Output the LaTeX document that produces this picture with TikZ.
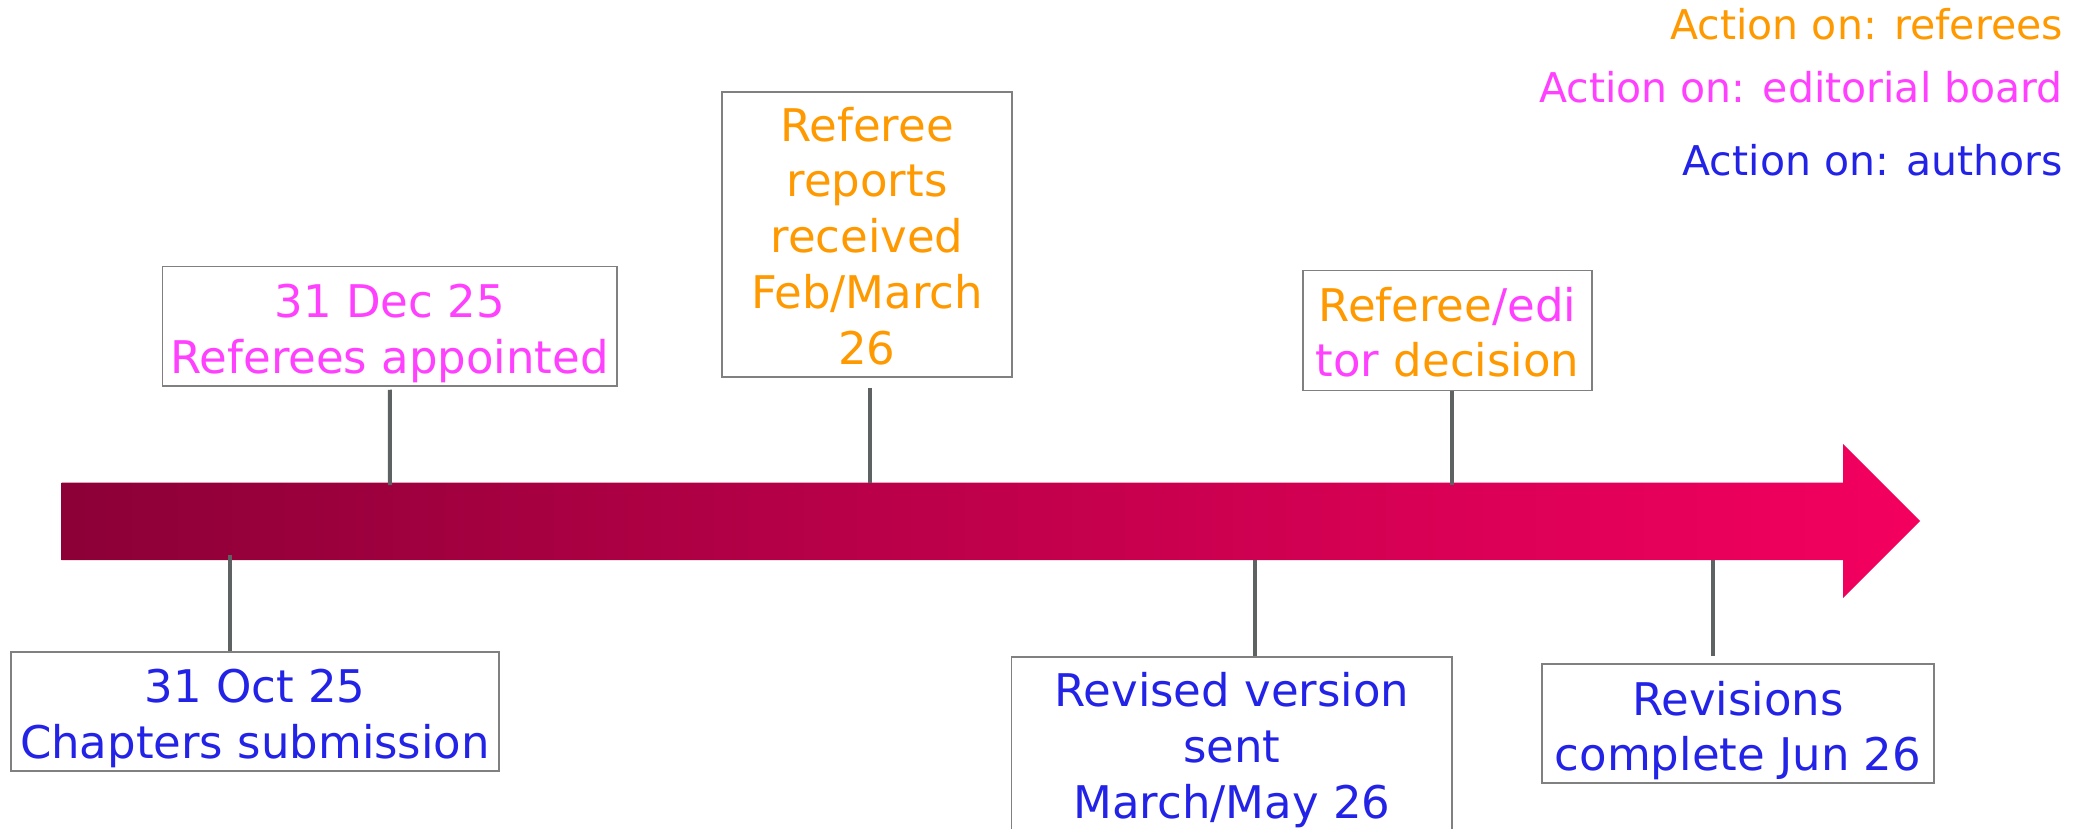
\documentclass[tikz,border=0pt]{standalone}
\usepackage{fontspec}
\setmainfont{DejaVu Sans}
\usetikzlibrary{calc}
\definecolor{cOrange}{HTML}{FF9900}
\definecolor{cMagenta}{HTML}{FF40FF}
\definecolor{cBlue}{HTML}{2323E8}
\definecolor{boxgray}{HTML}{808080}
\definecolor{linegray}{HTML}{5E6262}
\definecolor{arrowL}{HTML}{8C0037}
\definecolor{arrowR}{HTML}{F4005F}
\newcommand\boxfont{\fontsize{45}{55.7}\selectfont}
\newcommand\legfont{\fontsize{41}{49}\selectfont}
\begin{document}
\begin{tikzpicture}[x=1pt,y=-1pt,
  tbox/.style={draw=boxgray, line width=1.5pt, fill=white, inner sep=0pt,
    align=center, font=\boxfont},
  conn/.style={draw=linegray, line width=4pt},
  legend/.style={anchor=base east, inner sep=0pt, font=\legfont}]
\useasboundingbox[fill=white] (0,0) rectangle (2089,829);

% timeline arrow
\shade[left color=arrowL, right color=arrowR]
  (61.7,482.5) -- (1843,482.5) -- (1843,444) -- (1920,521) -- (1843,598)
  -- (1843,560) -- (61.7,560) -- cycle;

% boxes
\node[tbox, text=cMagenta, minimum width=454.5pt, minimum height=119.5pt,
  text height=106.5pt, text depth=13pt] (b1) at (389.75,326.25)
  {31 Dec 25\\Referees appointed};
\node[tbox, text=cOrange, minimum width=290pt, minimum height=285pt,
  text height=272pt, text depth=13pt] (b2) at (867,234.5)
  {Referee\\reports\\received\\Feb/March\\26};
\node[tbox, minimum width=289pt, minimum height=120pt,
  text height=106.2pt, text depth=13.8pt] (b3) at (1447.5,330.5)
  {\textcolor{cOrange}{Referee}\textcolor{cMagenta}{/edi}\\\textcolor{cMagenta}{tor} \textcolor{cOrange}{decision}};
\node[tbox, text=cBlue, minimum width=488pt, minimum height=119pt,
  text height=106pt, text depth=13pt] (b4) at (255,711.5)
  {31 Oct 25\\Chapters submission};
\node[tbox, text=cBlue, minimum width=440.3pt, minimum height=174pt,
  text height=161pt, text depth=13pt] (b5) at (1231.85,744)
  {Revised version\\sent\\March/May 26};
\node[tbox, text=cBlue, minimum width=392pt, minimum height=119pt,
  text height=106.7pt, text depth=12.3pt] (b6) at (1738,723.5)
  {Revisions\\complete Jun 26};

% connector ends on the arrow
\coordinate (a1) at (390,485);
\coordinate (a2) at (870,483);
\coordinate (a3) at (1452,485);
\coordinate (a4) at (230,555);
\coordinate (a5) at (1255,560);
\coordinate (a6) at (1712.7,560);

\draw[conn, shorten <=3pt] (b1.south) -- (a1);
\draw[conn, shorten <=10pt] (a2 |- b2.south) -- (a2);
\draw[conn] (a3 |- b3.south) -- (a3);
\draw[conn] (a4) -- (a4 |- b4.north);
\draw[conn] (a5) -- (a5 |- b5.north);
\draw[conn, shorten >=7pt] (a6) -- (a6 |- b6.north);

% legend
\node[legend, text=cOrange] (l1) at (2063,40) {Action on: referees};
\node[legend, text=cMagenta] (l2) at (2063,103) {Action on: editorial board};
\node[legend, text=cBlue] (l3) at (2063,176) {Action on: authors};
\end{tikzpicture}
\end{document}
